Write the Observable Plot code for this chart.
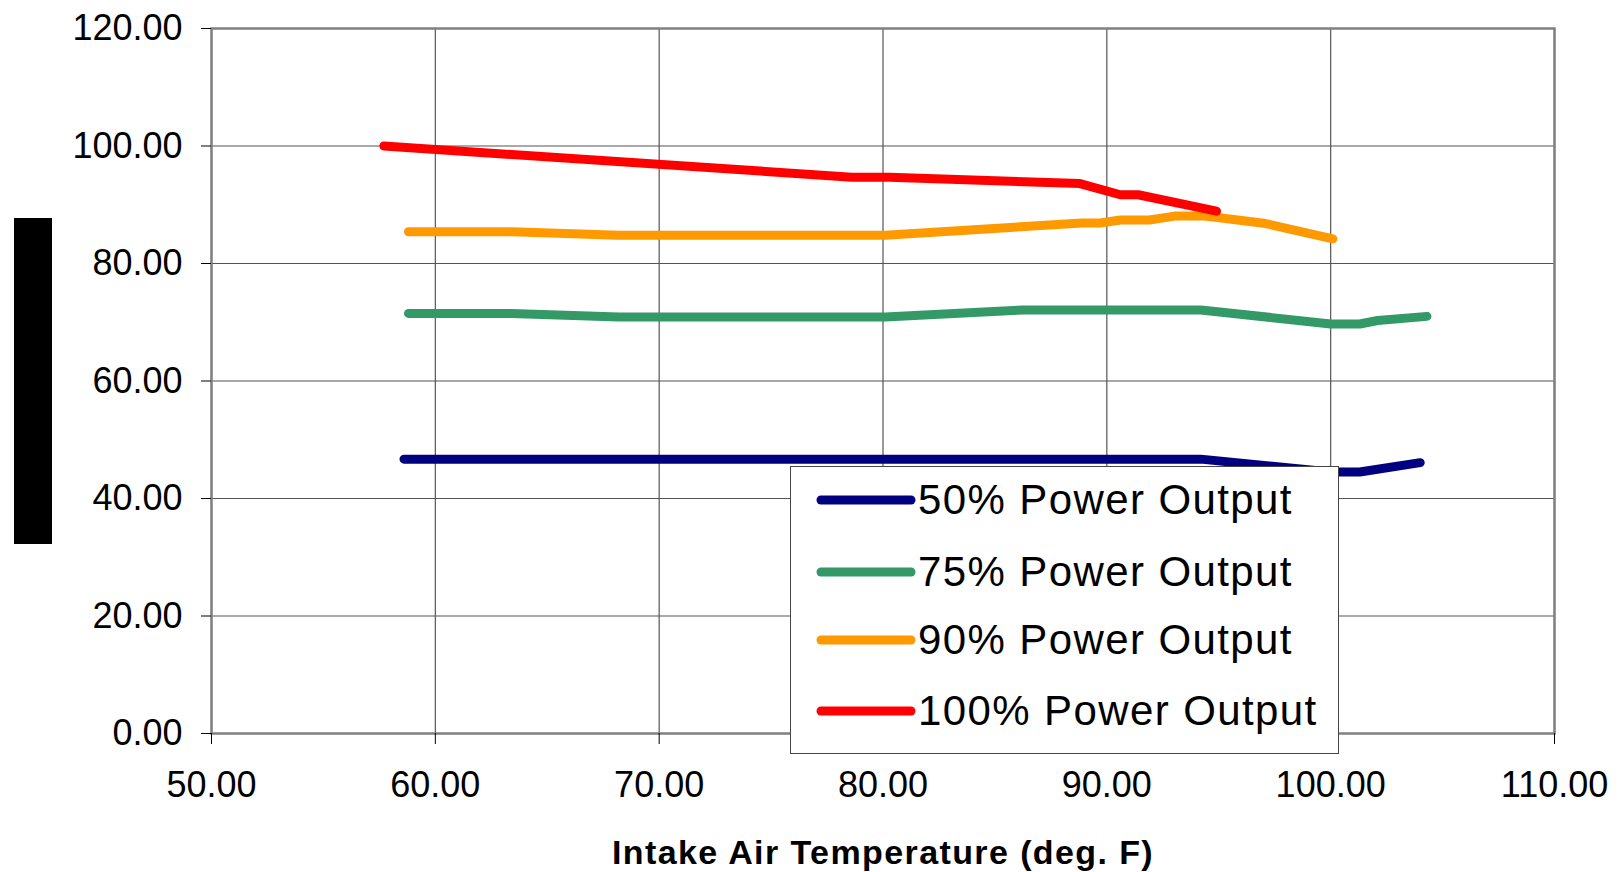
<!DOCTYPE html>
<html>
<head>
<meta charset="utf-8">
<script src="https://cdn.jsdelivr.net/npm/d3@7"></script>
<script src="https://cdn.jsdelivr.net/npm/@observablehq/plot@0.6"></script>
<style>
  html, body { margin: 0; padding: 0; background: #fff; }
  #wrap { position: relative; width: 1623px; height: 872px; font-family: "Liberation Sans", Arial, sans-serif; }
  #wrap svg { display: block; }
  g[aria-label="x-axis label"] text { font-size: 34px; font-weight: bold; letter-spacing: 1.4px; }
  #redact { position: absolute; left: 14px; top: 218px; width: 38px; height: 326px; background: #000; }
  #legend { position: absolute; left: 790px; top: 466px; width: 547px; height: 286px; background: #fff; border: 1.5px solid #444; }
  .entry { position: absolute; left: 0; height: 50px; display: flex; align-items: center; }
  .entry svg { width: 100px; height: 20px; margin-left: 25px; }
  .entry span { font-size: 42px; letter-spacing: 1.4px; color: #000; line-height: 1; margin-left: 2px; }
</style>
</head>
<body>
<div id="wrap"><div id="redact"></div></div>
<script>
const seriesNames = ["50% Power Output", "75% Power Output", "90% Power Output", "100% Power Output"];
const seriesColors = ["#000080", "#339966", "#FF9900", "#FF0000"];

const temps50 = [58.6, 94.2, 100.0, 101.3, 104.0];
const power50 = [46.7, 46.7, 44.5, 44.5, 46.1];

const temps75 = [58.8, 63.4, 68.2, 80.1, 86.3, 94.2, 100.0, 101.3, 102.1, 104.3];
const power75 = [71.5, 71.5, 70.9, 70.9, 72.1, 72.1, 69.7, 69.7, 70.3, 71.0];

const temps90 = [58.8, 63.4, 68.2, 80.1, 88.9, 89.7, 90.6, 91.9, 93.1, 94.4, 97.1, 100.1];
const power90 = [85.4, 85.4, 84.8, 84.8, 86.9, 86.9, 87.4, 87.4, 88.1, 88.1, 86.8, 84.2];

const temps100 = [57.7, 78.6, 80.3, 88.8, 90.6, 91.4, 94.9];
const power100 = [100.0, 94.7, 94.7, 93.6, 91.7, 91.7, 88.9];

const xTicks = [50, 60, 70, 80, 90, 100, 110];
const yTicks = [0, 20, 40, 60, 80, 100, 120];
const xTitle = "Intake Air Temperature (deg. F)";

const allTemps = [temps50, temps75, temps90, temps100];
const allPower = [power50, power75, power90, power100];
const rows = [];
seriesNames.forEach((name, i) => {
  allTemps[i].forEach((t, j) => rows.push({series: name, temp: t, power: allPower[i][j]}));
});

const chart = Plot.plot({
  width: 1623,
  height: 872,
  marginLeft: 211,
  marginRight: 69,
  marginTop: 28,
  marginBottom: 139,
  style: {fontFamily: "'Liberation Sans', Arial, sans-serif", fontSize: "36px", color: "#000", background: "#fff"},
  x: {domain: [50, 110]},
  y: {domain: [0, 120]},
  color: {domain: seriesNames, range: seriesColors},
  marks: [
    Plot.gridX(xTicks, {stroke: "#555", strokeOpacity: 1, strokeWidth: 1.2}),
    Plot.gridY(yTicks, {stroke: "#555", strokeOpacity: 1, strokeWidth: 1.2}),
    Plot.frame({stroke: "#808080", strokeWidth: 2.5}),
    Plot.axisY({ticks: yTicks, tickFormat: d => d.toFixed(2), tickSize: 10, tickPadding: 19, label: null}),
    Plot.axisX({ticks: xTicks, tickFormat: d => d.toFixed(2), tickSize: 11, tickPadding: 27,
      label: xTitle, labelAnchor: "center", labelOffset: 130, labelArrow: "none"}),
    Plot.line(rows, {x: "temp", y: "power", z: "series", stroke: "series",
      strokeWidth: 9, strokeLinecap: "round", strokeLinejoin: "round"})
  ]
});
const wrap = document.getElementById("wrap");
wrap.insertBefore(chart, wrap.firstChild);

const legend = document.createElement("div");
legend.id = "legend";
const entryTops = [8, 80, 148, 219];
seriesNames.forEach((name, i) => {
  const e = document.createElement("div");
  e.className = "entry";
  e.style.top = entryTops[i] + "px";
  e.innerHTML = `<svg viewBox="0 0 100 20"><line x1="5" y1="10" x2="95" y2="10" stroke="${seriesColors[i]}" stroke-width="9" stroke-linecap="round"/></svg><span>${name}</span>`;
  legend.appendChild(e);
});
wrap.appendChild(legend);
</script>
</body>
</html>
